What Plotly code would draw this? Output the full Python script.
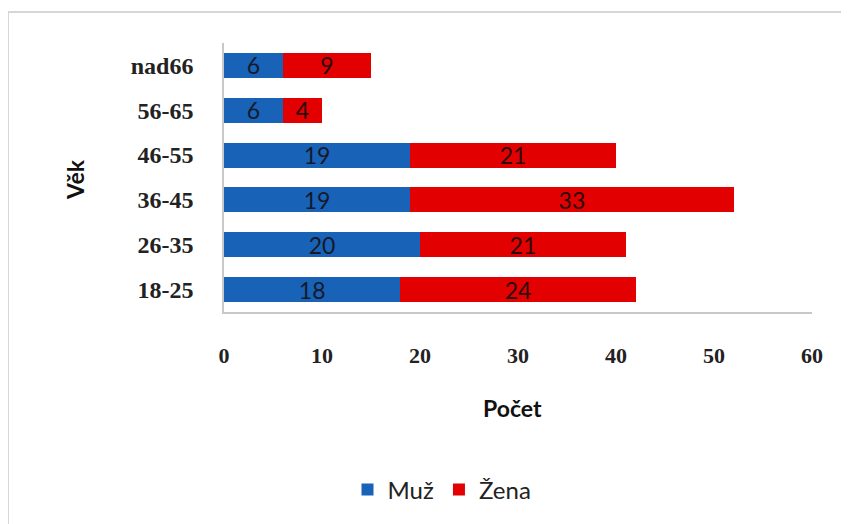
import plotly.graph_objects as go

categories = ["18-25", "26-35", "36-45", "46-55", "56-65", "nad66"]
muz = [18, 20, 19, 19, 6, 6]
zena = [24, 21, 33, 21, 4, 9]
x_ticks = [0, 10, 20, 30, 40, 50, 60]

OFF = 8  # page body margin
W, H = 841, 516
L, R, T, B = 216, 37, 35, 212
pw, ph = W - L - R, H - T - B

def px2x(px):
    return (px - OFF - L) / pw

def py2y(py):
    return (H - B - (py - OFF)) / ph

fig = go.Figure()
fig.add_trace(go.Bar(
    y=categories, x=muz, name="Muž", orientation="h",
    marker=dict(color="#1862B8", line=dict(width=0)),
    text=muz, textposition="inside", insidetextanchor="middle",
    textfont=dict(family="Lato", size=23, color="#151a2a"),
    constraintext="none", textangle=0,
))
fig.add_trace(go.Bar(
    y=categories, x=zena, name="Žena", orientation="h",
    marker=dict(color="#E20000", line=dict(width=0)),
    text=zena, textposition="inside", insidetextanchor="middle",
    textfont=dict(family="Lato", size=23, color="#2a0a0a"),
    constraintext="none", textangle=0,
))

fig.update_layout(
    width=W, height=H,
    margin=dict(l=L, r=R, t=T, b=B, pad=0),
    barmode="stack", bargap=0.44,
    plot_bgcolor="white", paper_bgcolor="white",
    showlegend=True,
    legend=dict(orientation="h", x=px2x(442), xanchor="center",
                y=py2y(490), yanchor="middle",
                font=dict(family="Lato", size=24, color="#222"),
                itemwidth=30, traceorder="normal"),
    xaxis=dict(range=[0, 60], tickvals=x_ticks, showgrid=False, zeroline=False,
               showline=True, linecolor="#c8c8c8", linewidth=1.5,
               ticks="outside", ticklen=23, tickcolor="rgba(0,0,0,0)",
               tickfont=dict(family="Liberation Serif", size=22, color="#222", weight="bold")),
    yaxis=dict(showgrid=False, zeroline=False, showline=True,
               linecolor="#c8c8c8", linewidth=1.5,
               ticks="outside", ticklen=24, tickcolor="rgba(0,0,0,0)",
               tickfont=dict(family="Liberation Serif", size=24, color="#222", weight="bold")),
    annotations=[
        dict(text="<b>Počet</b>", xref="paper", yref="paper",
             x=px2x(512), y=py2y(408), xanchor="center", yanchor="middle",
             showarrow=False,
             font=dict(family="Lato", size=23, color="#111")),
        dict(text="<b>Věk</b>", xref="paper", yref="paper",
             x=px2x(75), y=py2y(180), xanchor="center", yanchor="middle",
             showarrow=False, textangle=-90,
             font=dict(family="Lato", size=23, color="#111")),
    ],
    shapes=[
        dict(type="rect", xref="paper", yref="paper",
             x0=px2x(8), x1=px2x(870), y0=py2y(560), y1=py2y(12),
             line=dict(color="#d6d6d6", width=2), layer="below"),
    ],
)

fig.write_html("out.html")
